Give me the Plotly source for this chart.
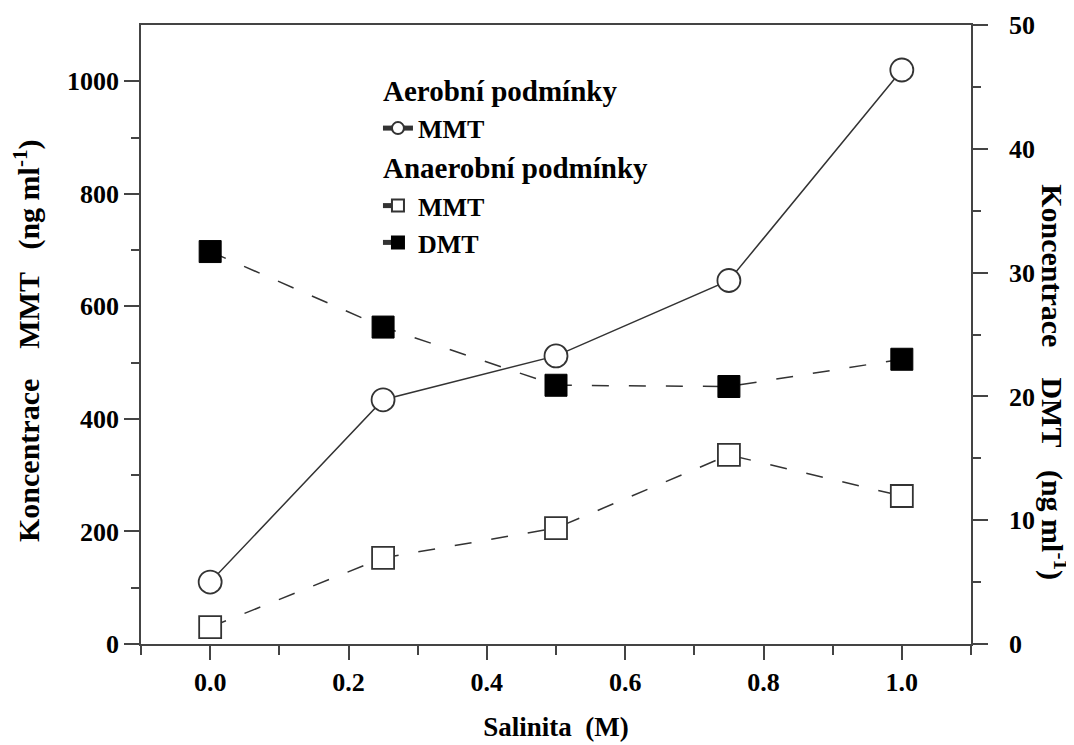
import plotly.graph_objects as go

salinity = [0.0, 0.25, 0.5, 0.75, 1.0]
aer_mmt = [110, 434, 512, 646, 1020]
anaer_mmt = [30, 153, 206, 336, 263]
anaer_dmt = [31.7, 25.6, 20.9, 20.8, 23.0]

FONT = "Liberation Serif"
LINE_COL = "#333333"
AX_COL = "#444444"
NB = "\u00a0"

fig = go.Figure()

fig.add_trace(go.Scatter(
    x=salinity, y=aer_mmt, mode="lines+markers", name="MMT",
    legendgroup="aer", legendgrouptitle=dict(text="Aerobní podmínky",
                                             font=dict(family=FONT, size=29, color="black", weight="bold")),
    line=dict(color=LINE_COL, width=1.5),
    marker=dict(symbol="circle", size=23, color="white", line=dict(color=LINE_COL, width=1.8)),
    yaxis="y",
))
fig.add_trace(go.Scatter(
    x=salinity, y=anaer_mmt, mode="lines+markers", name="MMT",
    legendgroup="anaer", legendgrouptitle=dict(text="Anaerobní podmínky",
                                               font=dict(family=FONT, size=29, color="black", weight="bold")),
    line=dict(color=LINE_COL, width=1.5, dash="17px,20px"),
    marker=dict(symbol="square", size=22, color="white", line=dict(color=LINE_COL, width=1.8)),
    yaxis="y",
))
fig.add_trace(go.Scatter(
    x=salinity, y=anaer_dmt, mode="lines+markers", name="DMT",
    legendgroup="anaer",
    line=dict(color=LINE_COL, width=1.5, dash="17px,20px"),
    marker=dict(symbol="square", size=22, color="black", line=dict(color="black", width=1)),
    yaxis="y2",
))

tickfont = dict(family=FONT, size=26, color="black", weight="bold")
ytitle_font = dict(family=FONT, size=30, color="black", weight="bold")

# page body has an 8px default margin, so the figure is sized to fit the window
fig.update_layout(
    width=1066, height=737,
    margin=dict(l=133, r=103, t=17, b=101, autoexpand=False),
    paper_bgcolor="white", plot_bgcolor="white",
    showlegend=True,
    legend=dict(x=0.2855, y=0.937, xanchor="left", yanchor="top",
                font=dict(family=FONT, size=26, color="black", weight="bold"),
                bgcolor="rgba(0,0,0,0)", tracegroupgap=0, itemsizing="constant",
                traceorder="grouped"),
    xaxis=dict(range=[-0.1, 1.1], tickvals=[0, 0.2, 0.4, 0.6, 0.8, 1.0], tickformat=".1f",
               ticks="outside", ticklen=14, tickwidth=1.5, tickcolor=AX_COL,
               minor=dict(tickvals=[-0.1, 0.1, 0.3, 0.5, 0.7, 0.9, 1.1], ticks="outside",
                          ticklen=9, tickwidth=1.5, tickcolor=AX_COL),
               showline=True, linecolor=AX_COL, linewidth=1.5, mirror=True, automargin=False,
               showgrid=False, zeroline=False, tickfont=tickfont,
               title=dict(text="Salinita" + NB * 2 + "(M)",
                          font=dict(family=FONT, size=27, color="black", weight="bold"),
                          standoff=21)),
    yaxis=dict(range=[0, 1100], tickvals=[0, 200, 400, 600, 800, 1000],
               ticks="outside", ticklen=15, tickwidth=1.5, tickcolor=AX_COL,
               minor=dict(tickvals=[100, 300, 500, 700, 900], ticks="outside",
                          ticklen=8, tickwidth=1.5, tickcolor=AX_COL),
               showline=True, linecolor=AX_COL, linewidth=1.5, automargin=False,
               showgrid=False, zeroline=False, tickfont=tickfont),
    yaxis2=dict(range=[0, 50], tickvals=[0, 10, 20, 30, 40, 50], overlaying="y", side="right",
                ticks="outside", ticklen=15, tickwidth=1.5, tickcolor=AX_COL,
                minor=dict(tickvals=[5, 15, 25, 35, 45], ticks="outside",
                           ticklen=8, tickwidth=1.5, tickcolor=AX_COL),
                ticklabelstandoff=16,
                showline=True, linecolor=AX_COL, linewidth=1.5, automargin=False,
                showgrid=False, zeroline=False, tickfont=tickfont),
    annotations=[
        dict(text="Koncentrace" + NB * 4 + "MMT" + NB * 3 + "(ng ml<sup>-1</sup>)", xref="paper", yref="paper",
             x=-0.137, y=0.49, xanchor="center", yanchor="middle", textangle=-90, showarrow=False,
             font=ytitle_font),
        dict(text="Koncentrace" + NB * 4 + "DMT" + NB * 3 + "(ng ml<sup>-1</sup>)", xref="paper", yref="paper",
             x=1.1, y=0.423, xanchor="center", yanchor="middle", textangle=90, showarrow=False,
             font=ytitle_font),
    ],
)

fig.write_html("out.html")
